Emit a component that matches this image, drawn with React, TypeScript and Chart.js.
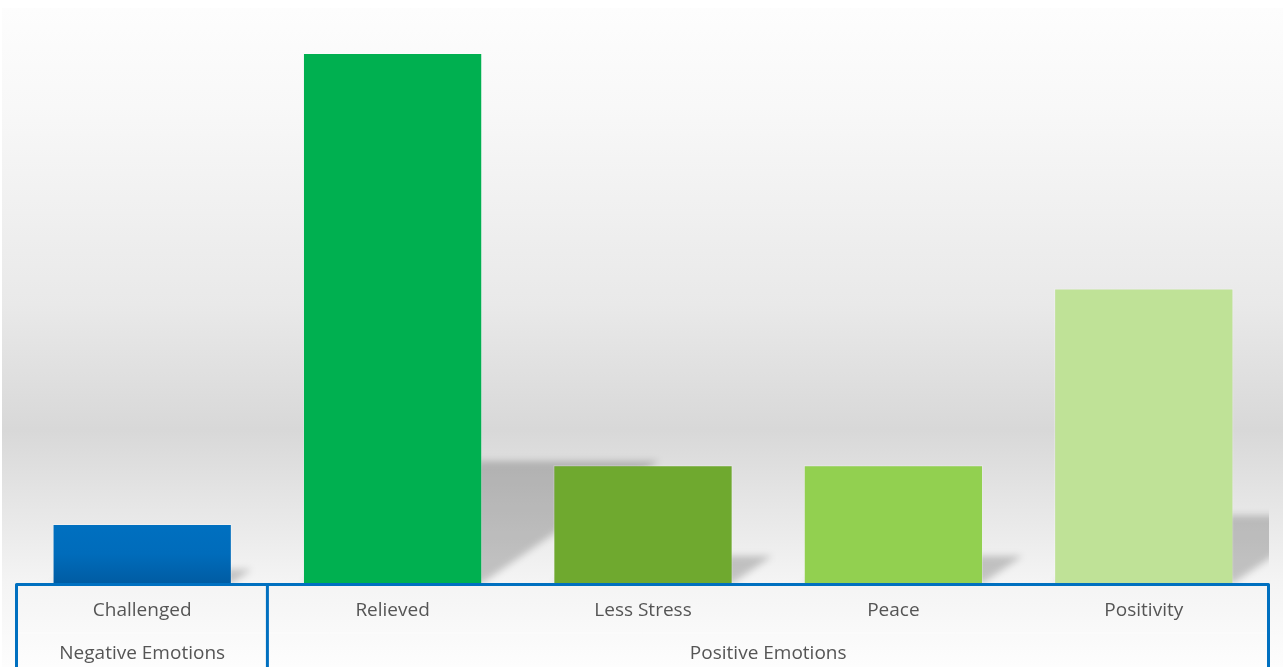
import React, { useEffect, useRef } from "react";
import { Chart, registerables } from "chart.js";

Chart.register(...registerables);

const categories = ["Challenged", "Relieved", "Less Stress", "Peace", "Positivity"];
const values = [1, 9, 2, 2, 5];
const groupLabels = ["Negative Emotions", "Positive Emotions"];
const groupSizes = [1, 4];
const barColors = ["#0070C0", "#00B050", "#6FA92F", "#92D050", "#BFE297"];
const yMin = 0;
const yMax = 9;

const BOX_COLOR = "#0070C0";
const TEXT_COLOR = "#555555";
const FONT = '19px "Open Sans", "DejaVu Sans", sans-serif';

const backgroundPlugin = {
  id: "bgGradient",
  beforeDraw(chart: any) {
    const { ctx, width, height } = chart;
    const g = ctx.createLinearGradient(0, 0, 0, height);
    g.addColorStop(0, "#fdfdfd");
    g.addColorStop(0.15, "#f8f8f8");
    g.addColorStop(0.45, "#e9e9e9");
    g.addColorStop(0.64, "#d8d8d8");
    g.addColorStop(0.87, "#f4f4f4");
    g.addColorStop(1, "#fdfdfd");
    ctx.save();
    ctx.fillStyle = g;
    ctx.fillRect(0, 0, width, height);
    ctx.restore();
  },
};

const shadowPlugin = {
  id: "barShadows",
  beforeDatasetsDraw(chart: any) {
    const { ctx, chartArea } = chart;
    const meta = chart.getDatasetMeta(0);
    ctx.save();
    ctx.beginPath();
    ctx.rect(chartArea.left, chartArea.top - 20, chartArea.right - chartArea.left, chartArea.bottom - chartArea.top + 20);
    ctx.clip();
    ctx.filter = "blur(3.5px)";
    ctx.fillStyle = "rgba(0,0,0,0.2)";
    meta.data.forEach((bar: any) => {
      const p = bar.getProps(["x", "y", "base", "width"], true);
      const left = p.x - p.width / 2;
      const right = p.x + p.width / 2;
      const h = p.base - p.y;
      const sh = 0.23 * h;
      const skew = 1.45 * sh;
      ctx.beginPath();
      ctx.moveTo(left, p.base);
      ctx.lineTo(right, p.base);
      ctx.lineTo(right + skew, p.base - sh);
      ctx.lineTo(left + skew, p.base - sh);
      ctx.closePath();
      ctx.fill();
    });
    ctx.restore();
  },
};

const categoryBoxPlugin = {
  id: "categoryBox",
  afterDraw(chart: any) {
    const { ctx, chartArea, height } = chart;
    const xScale = chart.scales.x;
    const n = categories.length;
    const left = chartArea.left - 0.5;
    const right = chartArea.right - 0.5;
    const step = (chartArea.right - chartArea.left) / n;
    const top = chartArea.bottom + 1.5;
    const bottom = height + 5;
    const row1 = chartArea.bottom + 28;
    const row2 = chartArea.bottom + 71;

    ctx.save();
    ctx.strokeStyle = "rgba(255,255,255,0.6)";
    ctx.lineWidth = 1;
    ctx.beginPath();
    ctx.moveTo(left, chartArea.bottom + 50);
    ctx.lineTo(right, chartArea.bottom + 50);
    ctx.stroke();

    ctx.strokeStyle = BOX_COLOR;
    ctx.lineWidth = 3;
    ctx.lineJoin = "round";
    ctx.beginPath();
    ctx.moveTo(left, bottom);
    ctx.lineTo(left, top);
    ctx.lineTo(right, top);
    ctx.lineTo(right, bottom);
    ctx.stroke();
    let acc = 0;
    for (let g = 0; g < groupSizes.length - 1; g++) {
      acc += groupSizes[g];
      const bx = chartArea.left + acc * step;
      ctx.beginPath();
      ctx.moveTo(bx, top);
      ctx.lineTo(bx, bottom);
      ctx.stroke();
    }

    ctx.fillStyle = TEXT_COLOR;
    ctx.font = FONT;
    ctx.textAlign = "center";
    ctx.textBaseline = "middle";
    categories.forEach((c, i) => {
      ctx.fillText(c, xScale.getPixelForValue(i), row1);
    });
    let start = 0;
    groupLabels.forEach((gl, g) => {
      const x0 = chartArea.left + start * step;
      const x1 = chartArea.left + (start + groupSizes[g]) * step;
      ctx.fillText(gl, (x0 + x1) / 2, row2);
      start += groupSizes[g];
    });
    ctx.restore();
  },
};

export default function App() {
  const canvasRef = useRef<HTMLCanvasElement | null>(null);

  useEffect(() => {
    if (!canvasRef.current) return;
    const chart = new Chart(canvasRef.current, {
      type: "bar",
      data: {
        labels: categories,
        datasets: [
          {
            data: values,
            backgroundColor: (c: any) => {
              const i = c.dataIndex;
              if (i === 0 && c.chart.chartArea) {
                const ys = c.chart.scales.y;
                const yTop = ys.getPixelForValue(values[0]);
                const yBot = ys.getPixelForValue(0);
                const g = c.chart.ctx.createLinearGradient(0, yTop, 0, yBot);
                g.addColorStop(0, "#0070C0");
                g.addColorStop(0.5, "#006cbb");
                g.addColorStop(1, "#005ca3");
                return g;
              }
              return barColors[i];
            },
            borderColor: "rgba(255,255,255,0.3)",
            borderWidth: 1,
            barPercentage: 0.716,
            categoryPercentage: 1,
          },
        ],
      },
      options: {
        animation: false,
        responsive: false,
        maintainAspectRatio: false,
        layout: { padding: { left: 15, right: 14, top: 45, bottom: 84 } },
        plugins: { legend: { display: false }, tooltip: { enabled: false }, title: { display: false } },
        scales: {
          x: { display: false, grid: { display: false } },
          y: { display: false, min: yMin, max: yMax, grid: { display: false } },
        },
      },
      plugins: [backgroundPlugin, shadowPlugin, categoryBoxPlugin],
    });
    return () => chart.destroy();
  }, []);

  return (
    <div style={{ position: "absolute", left: 2, top: 8, width: 1281, height: 659 }}>
      <canvas ref={canvasRef} width={1281} height={659} style={{ width: 1281, height: 659, display: "block" }} />
    </div>
  );
}
